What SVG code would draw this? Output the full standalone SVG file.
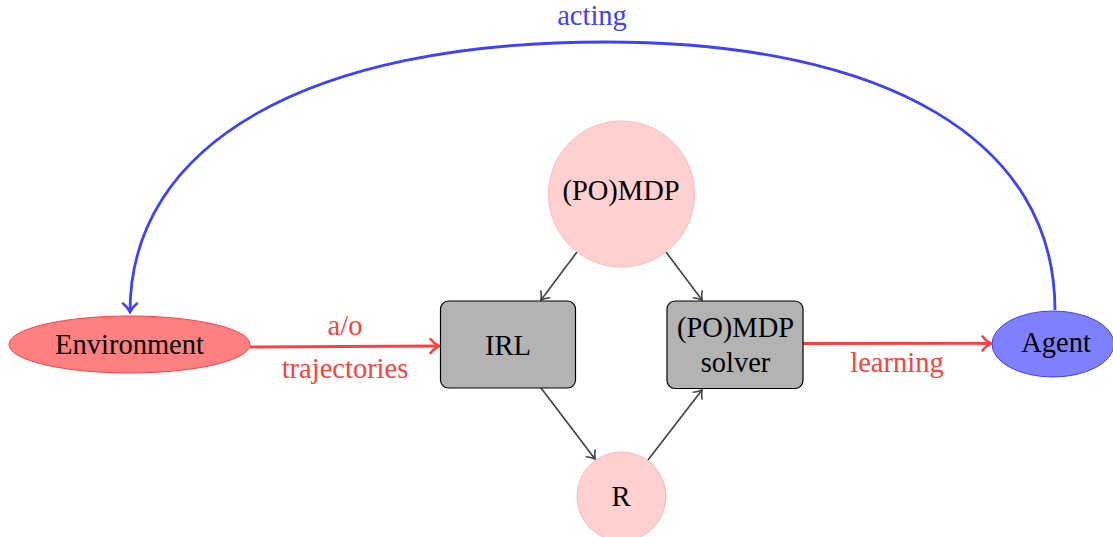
<svg xmlns="http://www.w3.org/2000/svg" width="1113" height="537" viewBox="0 0 1113 537">
<style>
text{font-family:"Liberation Serif","Times New Roman",serif;font-size:28.5px;text-anchor:middle;fill:#000}
.red{fill:#ff4040}
.blue{fill:#4040ff}
.gray{fill:none;stroke:#404040;stroke-width:1.6}
.thick{fill:none;stroke-width:2.8}
.box{fill:#b3b3b3;stroke:#000;stroke-width:1.2}
.pink{fill:#ffd0d0;stroke:#ffb8b8;stroke-width:1}
</style>
<defs>
<marker id="ag" viewBox="-12 -10 14 20" refX="0" refY="0" markerWidth="14" markerHeight="20" markerUnits="userSpaceOnUse" orient="auto">
<path d="M -7 -5.5 C -4.5 -2.5 -1.5 -0.8 0 0 C -1.5 0.8 -4.5 2.5 -7 5.5" fill="none" stroke="#404040" stroke-width="1.6" stroke-linecap="round"/>
</marker>
<marker id="ar" viewBox="-12 -10 14 20" refX="0" refY="0" markerWidth="14" markerHeight="20" markerUnits="userSpaceOnUse" orient="auto">
<path d="M -8.5 -7 C -5.5 -3 -2 -1 0 0 C -2 1 -5.5 3 -8.5 7" fill="none" stroke="#ff4040" stroke-width="2.6" stroke-linecap="round"/>
</marker>
<marker id="ab" viewBox="-12 -10 14 20" refX="0" refY="0" markerWidth="14" markerHeight="20" markerUnits="userSpaceOnUse" orient="auto">
<path d="M -8.5 -7 C -5.5 -3 -2 -1 0 0 C -2 1 -5.5 3 -8.5 7" fill="none" stroke="#4040ff" stroke-width="2.6" stroke-linecap="round"/>
</marker>
</defs>
<g id="connectors">
<path class="thick" stroke="#4040ff" marker-end="url(#ab)" d="M 1055 310 C 1055 141 888 42 605 42 C 309 42 130 143 130 312"/>
<path class="thick" stroke="#ff4040" marker-end="url(#ar)" d="M 250 347 C 320 347 380 346 439 346"/>
<path class="thick" stroke="#ff4040" marker-end="url(#ar)" d="M 803 343.5 C 870 343 930 343 991 343.5"/>
<path class="gray" marker-end="url(#ag)" d="M 577 252 L 541 300"/>
<path class="gray" marker-end="url(#ag)" d="M 666 252 L 702 300"/>
<path class="gray" marker-end="url(#ag)" d="M 541 388 L 595 459"/>
<path class="gray" marker-end="url(#ag)" d="M 648 460 L 702 390"/>
<text class="blue" x="592" y="25">acting</text>
<text class="red" x="345" y="335">a/o</text>
<text class="red" x="345" y="378">trajectories</text>
<text class="red" x="897" y="372">learning</text>
</g>
<g id="mdp">
<circle class="pink" cx="621.5" cy="194" r="73"/>
<text x="621" y="200">(PO)MDP</text>
</g>
<g id="r">
<circle class="pink" cx="621.5" cy="496.5" r="44.5"/>
<text x="621" y="506">R</text>
</g>
<g id="irl">
<rect class="box" x="440.5" y="301" width="135" height="87" rx="8"/>
<text x="508" y="355">IRL</text>
</g>
<g id="solver">
<rect class="box" x="667" y="301" width="136" height="87.5" rx="8"/>
<text x="735.5" y="337">(PO)MDP</text>
<text x="735.5" y="372">solver</text>
</g>
<g id="environment">
<ellipse cx="129.5" cy="344.5" rx="120.5" ry="28.5" fill="#ff8080" stroke="#ff4040" stroke-width="1"/>
<text x="129.5" y="354">Environment</text>
</g>
<g id="agent">
<ellipse cx="1053" cy="344" rx="61" ry="33" fill="#8080ff" stroke="#4040ff" stroke-width="1"/>
<text x="1056" y="352">Agent</text>
</g>
</svg>
